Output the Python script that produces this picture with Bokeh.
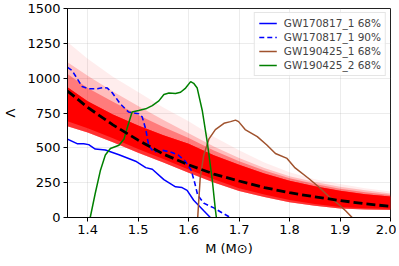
from bokeh.plotting import figure
from bokeh.embed import file_html
from bokeh.resources import INLINE
from bokeh.models import Legend, LegendItem, FixedTicker

# ---- data ----
band_m = [1.36, 1.40, 1.45, 1.50, 1.55, 1.60, 1.65, 1.70, 1.75, 1.80, 1.85, 1.90, 1.95, 2.00]
band_lower = [655, 610, 540, 465, 395, 322, 252, 190, 148, 110, 84, 65, 57, 54]
band_low_core = [690, 640, 568, 492, 420, 345, 275, 210, 165, 125, 96, 76, 66, 62]
band_dense_top = [935, 835, 740, 660, 590, 530, 447, 378, 316, 263, 224, 192, 167, 150]
band_upper_mid = [1030, 930, 830, 735, 650, 570, 480, 403, 337, 281, 240, 206, 181, 161]
band_mid_top = [1115, 1018, 905, 800, 700, 605, 510, 427, 355, 296, 255, 220, 195, 172]
band_faint_top = [1260, 1140, 1010, 900, 790, 690, 580, 482, 395, 325, 275, 240, 210, 186]

median_m = [1.36, 1.40, 1.45, 1.50, 1.55, 1.60, 1.65, 1.70, 1.75, 1.80, 1.85, 1.90, 1.95, 2.00]
median_lam = [908, 790, 665, 555, 455, 378, 312, 262, 215, 178, 148, 122, 98, 80]

gw170817_68_m = [1.359, 1.379, 1.392, 1.402, 1.415, 1.435, 1.462, 1.495, 1.515, 1.528,
                 1.551, 1.574, 1.587, 1.597, 1.61, 1.63, 1.643]
gw170817_68_lam = [564, 530, 530, 523, 491, 484, 450, 404, 358, 346,
                   272, 220, 215, 195, 124, 48, 0]

gw170817_90_m = [1.36, 1.369, 1.379, 1.389, 1.402, 1.419, 1.432, 1.439, 1.449, 1.465,
                 1.481, 1.501, 1.508, 1.515, 1.521, 1.531, 1.548, 1.564, 1.58, 1.594,
                 1.605, 1.612, 1.618, 1.63, 1.65, 1.666, 1.683]
gw170817_90_lam = [1078, 1055, 998, 940, 924, 924, 933, 929, 894, 814,
                   757, 745, 722, 633, 516, 470, 482, 470, 447, 401,
                   340, 250, 160, 103, 69, 34, 0]

gw190425_1_m = [1.618, 1.623, 1.63, 1.64, 1.653, 1.67, 1.683, 1.693, 1.699, 1.712,
                1.736, 1.755, 1.772, 1.795, 1.811, 1.838, 1.858, 1.878, 1.897, 1.911, 1.924]
gw190425_1_lam = [0, 287, 447, 562, 631, 676, 688, 699, 688, 631,
                  580, 520, 459, 424, 356, 280, 219, 150, 95, 48, 0]

gw190425_2_m = [1.405, 1.415, 1.425, 1.435, 1.445, 1.462, 1.472, 1.478, 1.488, 1.501,
                1.515, 1.528, 1.541, 1.551, 1.561, 1.574, 1.584, 1.594, 1.604, 1.61,
                1.617, 1.627, 1.637, 1.647, 1.653, 1.655]
gw190425_2_lam = [0, 174, 335, 449, 495, 518, 564, 640, 757, 768,
                  780, 803, 837, 883, 894, 890, 899, 929, 975, 963,
                  929, 768, 539, 264, 57, 0]

x_ticks = [1.4, 1.5, 1.6, 1.7, 1.8, 1.9, 2.0]
y_ticks = [0, 250, 500, 750, 1000, 1250, 1500]

FONT = "DejaVu Sans"

p = figure(output_backend="svg", toolbar_location=None,
           frame_width=323, frame_height=209,
           min_border_left=54, min_border_right=6, min_border_top=8, min_border_bottom=33,
           x_range=(1.36, 2.0), y_range=(0, 1500))
p.background_fill_color = "white"
p.border_fill_color = "white"
p.outline_line_color = "#222222"
p.outline_line_width = 1

# band of many EOS curves (layered envelopes)
p.varea(x=band_m, y1=band_lower, y2=band_faint_top, fill_color="red", fill_alpha=0.07)
p.varea(x=band_m, y1=band_lower, y2=band_mid_top, fill_color="red", fill_alpha=0.2)
p.varea(x=band_m, y1=band_lower, y2=band_upper_mid, fill_color="red", fill_alpha=0.35)
p.varea(x=band_m, y1=band_lower, y2=band_dense_top, fill_color="red", fill_alpha=0.6)
p.varea(x=band_m, y1=band_low_core, y2=band_dense_top, fill_color="red", fill_alpha=1.0)

r1 = p.line(gw170817_68_m, gw170817_68_lam, line_color="blue", line_width=1.5)
r2 = p.line(gw170817_90_m, gw170817_90_lam, line_color="blue", line_width=1.6, line_dash="5 3")
r3 = p.line(gw190425_1_m, gw190425_1_lam, line_color="sienna", line_width=1.5)
r4 = p.line(gw190425_2_m, gw190425_2_lam, line_color="green", line_width=1.5)
p.line(median_m, median_lam, line_color="black", line_width=2.8, line_dash="9 4")

legend = Legend(items=[
    LegendItem(label="GW170817_1 68%", renderers=[r1]),
    LegendItem(label="GW170817_1 90%", renderers=[r2]),
    LegendItem(label="GW190425_1 68%", renderers=[r3]),
    LegendItem(label="GW190425_2 68%", renderers=[r4]),
], location="top_right")
legend.label_text_font = FONT
legend.label_text_font_size = "10.5px"
legend.label_standoff = 7
legend.glyph_width = 18
legend.glyph_height = 12
legend.label_height = 12
legend.spacing = 2
legend.padding = 4
legend.margin = 4
legend.border_line_color = "#cccccc"
legend.border_line_width = 1
legend.background_fill_alpha = 0.85
p.add_layout(legend)

for ax in (p.xaxis[0], p.yaxis[0]):
    ax.major_label_text_font = FONT
    ax.major_label_text_font_size = "13px"
    ax.major_label_text_color = "black"
    ax.axis_label_text_font = FONT
    ax.axis_label_text_font_size = "13px"
    ax.axis_label_text_font_style = "normal"
    ax.axis_label_text_color = "black"
    ax.axis_line_color = "black"
    ax.major_tick_line_color = "black"
    ax.major_tick_out = 4
    ax.major_tick_in = 0
    ax.minor_tick_out = 0
    ax.minor_tick_in = 0
    ax.major_label_standoff = 3

p.xaxis.ticker = FixedTicker(ticks=x_ticks)
p.yaxis.ticker = FixedTicker(ticks=y_ticks)
p.xaxis.major_label_overrides = {t: f"{t:.1f}" for t in x_ticks}
p.xaxis.axis_label = "M (M⊙)"
p.yaxis.axis_label = "Λ"
p.xaxis.axis_label_standoff = 4
p.yaxis.axis_label_standoff = 6

p.grid.grid_line_color = "#b0b0b0"
p.grid.grid_line_alpha = 0.3
p.grid.grid_line_width = 0.8
p.xgrid.ticker = FixedTicker(ticks=x_ticks)
p.ygrid.ticker = FixedTicker(ticks=y_ticks)

open("out.html", "w").write(file_html(p, INLINE))
